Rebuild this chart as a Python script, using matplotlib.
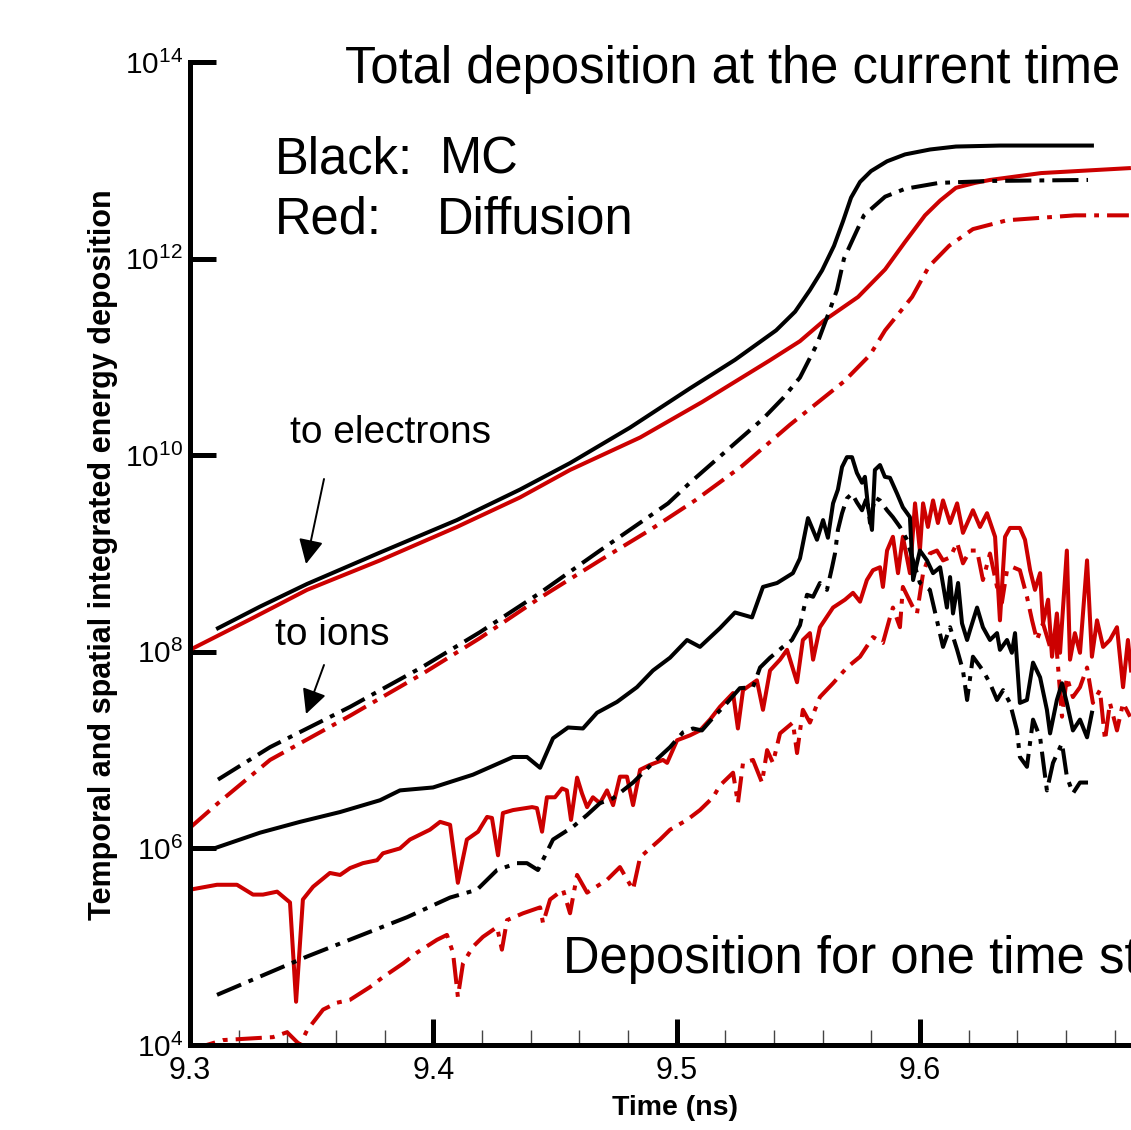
import numpy as np
import matplotlib
matplotlib.use("Agg")
import matplotlib.pyplot as plt
from matplotlib.ticker import FixedLocator, MultipleLocator, FuncFormatter

plt.rcParams['font.family'] = ['Liberation Sans', 'DejaVu Sans']
plt.rcParams['mathtext.fontset'] = 'custom'
plt.rcParams['mathtext.rm'] = 'Liberation Sans'
plt.rcParams['mathtext.it'] = 'Liberation Sans:italic'
plt.rcParams['mathtext.bf'] = 'Liberation Sans:bold'

# ---------------- data (time in ns, log10 of energy deposition) ----------------
# Total deposition at the current time
mc_elec_tot_t = [9.3115, 9.3288, 9.3481, 9.3781, 9.4097, 9.4356, 9.4562, 9.4808, 9.5055, 9.5240,
                 9.5409, 9.5487, 9.5548, 9.5598, 9.5647, 9.5684, 9.5717, 9.5754, 9.5799, 9.5865,
                 9.5939, 9.6042, 9.6148, 9.6329, 9.6707]
mc_elec_tot_y = [8.24, 8.46, 8.69, 9.01, 9.34, 9.65, 9.92, 10.28, 10.68, 10.97,
                 11.27, 11.46, 11.68, 11.88, 12.13, 12.38, 12.62, 12.78, 12.89, 12.99,
                 13.06, 13.11, 13.14, 13.15, 13.15]

diff_elec_tot_t = [9.3000, 9.3247, 9.3481, 9.3781, 9.4097, 9.4356, 9.4562, 9.4850, 9.5104, 9.5380,
                   9.5507, 9.5606, 9.5746, 9.5857, 9.5939, 9.6021, 9.6083, 9.6148, 9.6226, 9.6288,
                   9.6498, 9.6859]
diff_elec_tot_y = [8.02, 8.33, 8.63, 8.93, 9.27, 9.57, 9.85, 10.18, 10.54, 10.96,
                   11.16, 11.37, 11.61, 11.89, 12.17, 12.44, 12.59, 12.72, 12.77, 12.80,
                   12.87, 12.92]

mc_ion_tot_t = [9.3115, 9.3329, 9.3658, 9.3958, 9.4192, 9.4439, 9.4685, 9.4965, 9.5055, 9.5244,
                9.5355, 9.5437, 9.5507, 9.5577, 9.5630, 9.5659, 9.5688, 9.5725, 9.5770, 9.5857,
                9.5939, 9.6078, 9.6288, 9.6691]
mc_ion_tot_y = [6.70, 7.03, 7.44, 7.85, 8.20, 8.60, 9.03, 9.51, 9.72, 10.13,
                10.37, 10.58, 10.79, 11.13, 11.48, 11.68, 12.00, 12.20, 12.44, 12.63,
                12.71, 12.77, 12.79, 12.80]

diff_ion_tot_t = [9.3000, 9.3115, 9.3329, 9.3658, 9.3958, 9.4192, 9.4439, 9.4685, 9.4891, 9.5076,
                  9.5269, 9.5466, 9.5688, 9.5795, 9.5857, 9.5968, 9.6037, 9.6120, 9.6218, 9.6358,
                  9.6637, 9.6859]
diff_ion_tot_y = [6.21, 6.46, 6.90, 7.35, 7.78, 8.14, 8.55, 8.93, 9.24, 9.54,
                  9.89, 10.31, 10.75, 11.02, 11.27, 11.61, 11.92, 12.13, 12.30, 12.39,
                  12.44, 12.44]

# Deposition for one time step
mc_elec_step_t = [9.3111, 9.3288, 9.3452, 9.3617, 9.3781, 9.3863, 9.3999, 9.4163, 9.4328, 9.4385,
                  9.4439, 9.4492, 9.4554, 9.4615, 9.4673, 9.4755, 9.4837, 9.4903, 9.4973, 9.5043,
                  9.5096, 9.5178, 9.5240, 9.5310, 9.5355, 9.5413, 9.5478, 9.5507, 9.5540, 9.5577,
                  9.5602, 9.5622, 9.5643, 9.5663, 9.5680, 9.5700, 9.5721, 9.5741, 9.5762, 9.5774,
                  9.5787, 9.5803, 9.5815, 9.5836, 9.5856, 9.5877, 9.5906, 9.5930, 9.5959, 9.5972,
                  9.6000, 9.6029, 9.6054, 9.6083, 9.6111, 9.6124, 9.6136, 9.6157, 9.6173, 9.6194,
                  9.6206, 9.6235, 9.6259, 9.6288, 9.6317, 9.6329, 9.6358, 9.6378, 9.6391, 9.6411,
                  9.6440, 9.6465, 9.6494, 9.6522, 9.6535, 9.6563, 9.6584, 9.6604, 9.6629, 9.6658,
                  9.6687, 9.6707]
mc_elec_step_y = [6.01, 6.16, 6.27, 6.37, 6.49, 6.59, 6.62, 6.75, 6.93, 6.93,
                  6.82, 7.12, 7.23, 7.22, 7.38, 7.49, 7.64, 7.81, 7.94, 8.12,
                  8.05, 8.24, 8.40, 8.35, 8.66, 8.70, 8.80, 8.95, 9.36, 9.14,
                  9.34, 9.16, 9.51, 9.65, 9.88, 9.98, 9.98, 9.82, 9.72, 9.78,
                  9.47, 9.24, 9.85, 9.90, 9.78, 9.77, 9.61, 9.47, 9.37, 8.73,
                  9.03, 8.93, 8.80, 8.86, 8.45, 8.76, 8.39, 8.70, 8.29, 8.12,
                  8.22, 8.45, 8.25, 8.12, 8.19, 8.02, 8.12, 7.99, 8.19, 7.48,
                  7.51, 7.89, 7.74, 7.41, 7.17, 7.51, 7.68, 7.48, 7.20, 7.31,
                  7.13, 7.38]

diff_elec_step_t = [9.3000, 9.3111, 9.3193, 9.3259, 9.3300, 9.3358, 9.3411, 9.3436, 9.3464, 9.3506,
                    9.3575, 9.3617, 9.3658, 9.3711, 9.3769, 9.3793, 9.3863, 9.3904, 9.3986, 9.4028,
                    9.4069, 9.4101, 9.4138, 9.4184, 9.4221, 9.4241, 9.4266, 9.4286, 9.4328, 9.4406,
                    9.4426, 9.4447, 9.4467, 9.4500, 9.4529, 9.4549, 9.4566, 9.4591, 9.4611, 9.4632,
                    9.4656, 9.4685, 9.4714, 9.4739, 9.4767, 9.4796, 9.4821, 9.4850, 9.4891, 9.4944,
                    9.4961, 9.5002, 9.5055, 9.5096, 9.5137, 9.5178, 9.5232, 9.5252, 9.5273, 9.5330,
                    9.5355, 9.5384, 9.5425, 9.5454, 9.5495, 9.5519, 9.5548, 9.5561, 9.5589, 9.5643,
                    9.5692, 9.5725, 9.5754, 9.5782, 9.5807, 9.5836, 9.5848, 9.5865, 9.5889, 9.5910,
                    9.5930, 9.5959, 9.5980, 9.6000, 9.6013, 9.6033, 9.6054, 9.6074, 9.6095, 9.6124,
                    9.6153, 9.6177, 9.6218, 9.6247, 9.6276, 9.6309, 9.6329, 9.6350, 9.6370, 9.6411,
                    9.6432, 9.6453, 9.6473, 9.6494, 9.6506, 9.6527, 9.6543, 9.6563, 9.6576, 9.6604,
                    9.6617, 9.6637, 9.6658, 9.6687, 9.6707, 9.6728, 9.6753, 9.6781, 9.6810, 9.6835,
                    9.6855, 9.6868]
diff_elec_step_y = [5.58, 5.63, 5.63, 5.53, 5.53, 5.56, 5.45, 4.44, 5.48, 5.61,
                    5.75, 5.73, 5.80, 5.85, 5.88, 5.95, 6.00, 6.09, 6.19, 6.27,
                    6.24, 5.65, 6.09, 6.17, 6.32, 6.31, 5.93, 6.36, 6.39, 6.42,
                    6.41, 6.17, 6.52, 6.52, 6.61, 6.59, 6.29, 6.72, 6.56, 6.42,
                    6.52, 6.46, 6.59, 6.44, 6.73, 6.73, 6.44, 6.80, 6.85, 6.90,
                    6.87, 7.10, 7.15, 7.20, 7.31, 7.44, 7.58, 7.22, 7.61, 7.71,
                    7.41, 7.81, 7.92, 8.02, 7.69, 8.12, 8.19, 7.92, 8.25, 8.45,
                    8.53, 8.60, 8.51, 8.73, 8.83, 8.86, 8.66, 9.03, 9.17, 8.80,
                    9.17, 8.80, 9.51, 9.03, 9.51, 9.27, 9.54, 9.31, 9.54, 9.31,
                    9.51, 9.21, 9.44, 9.27, 9.41, 9.17, 8.32, 9.17, 9.26, 9.26,
                    9.14, 8.83, 8.63, 8.80, 8.29, 8.53, 7.95, 8.39, 7.99, 9.03,
                    7.92, 8.19, 7.99, 8.93, 7.95, 8.32, 8.05, 8.12, 8.25, 7.64,
                    8.12, 7.81]

mc_ion_step_t = [9.3111, 9.3481, 9.3892, 9.4069, 9.4180, 9.4262, 9.4344, 9.4385, 9.4430, 9.4492,
                 9.4574, 9.4632, 9.4685, 9.4739, 9.4821, 9.4903, 9.4973, 9.5026, 9.5067, 9.5104,
                 9.5150, 9.5207, 9.5260, 9.5314, 9.5343, 9.5384, 9.5437, 9.5474, 9.5507, 9.5536,
                 9.5561, 9.5589, 9.5618, 9.5639, 9.5651, 9.5663, 9.5680, 9.5700, 9.5721, 9.5741,
                 9.5762, 9.5782, 9.5795, 9.5815, 9.5836, 9.5865, 9.5889, 9.5918, 9.5947, 9.5972,
                 9.6000, 9.6041, 9.6070, 9.6095, 9.6124, 9.6153, 9.6177, 9.6194, 9.6218, 9.6259,
                 9.6288, 9.6317, 9.6342, 9.6370, 9.6399, 9.6411, 9.6440, 9.6465, 9.6494, 9.6522,
                 9.6547, 9.6584, 9.6604, 9.6629, 9.6658, 9.6691]
mc_ion_step_y = [4.51, 4.90, 5.30, 5.50, 5.58, 5.78, 5.85, 5.85, 5.78, 6.09,
                 6.22, 6.34, 6.46, 6.51, 6.67, 6.87, 7.03, 7.18, 7.22, 7.20,
                 7.33, 7.48, 7.63, 7.64, 7.84, 7.94, 8.05, 8.12, 8.27, 8.58,
                 8.56, 8.70, 8.63, 8.86, 9.00, 9.24, 9.41, 9.56, 9.61, 9.52,
                 9.44, 9.57, 9.31, 9.57, 9.54, 9.44, 9.37, 9.27, 9.14, 8.93,
                 8.70, 8.63, 8.32, 8.05, 8.25, 8.02, 7.81, 7.51, 7.95, 7.81,
                 7.68, 7.51, 7.61, 7.48, 7.20, 6.93, 6.83, 7.31, 7.13, 6.59,
                 6.87, 7.07, 6.73, 6.56, 6.67, 6.67]

diff_ion_step_t = [9.3000, 9.3136, 9.3341, 9.3399, 9.3452, 9.3481, 9.3547, 9.3604, 9.3658, 9.3740,
                   9.3793, 9.3876, 9.3933, 9.4015, 9.4056, 9.4081, 9.4101, 9.4122, 9.4163, 9.4204,
                   9.4262, 9.4282, 9.4303, 9.4369, 9.4439, 9.4451, 9.4480, 9.4533, 9.4562, 9.4591,
                   9.4632, 9.4714, 9.4767, 9.4821, 9.4850, 9.4891, 9.4932, 9.4973, 9.5043, 9.5096,
                   9.5150, 9.5178, 9.5232, 9.5252, 9.5273, 9.5314, 9.5351, 9.5372, 9.5396, 9.5425,
                   9.5478, 9.5495, 9.5519, 9.5548, 9.5589, 9.5643, 9.5700, 9.5754, 9.5807, 9.5848,
                   9.5877, 9.5889, 9.5918, 9.5930, 9.5972, 9.5988, 9.6013, 9.6041, 9.6070, 9.6095,
                   9.6124, 9.6153, 9.6177, 9.6206, 9.6235, 9.6259, 9.6288, 9.6317, 9.6337, 9.6358,
                   9.6383, 9.6411, 9.6440, 9.6461, 9.6481, 9.6506, 9.6535, 9.6556, 9.6584, 9.6604,
                   9.6629, 9.6658, 9.6687, 9.6711, 9.6740, 9.6761, 9.6781, 9.6810, 9.6835, 9.6864]
diff_ion_step_y = [3.95, 4.05, 4.08, 4.13, 4.00, 4.15, 4.36, 4.43, 4.46, 4.59,
                   4.69, 4.83, 4.94, 5.07, 5.12, 4.94, 4.49, 4.83, 5.00, 5.10,
                   5.20, 4.97, 5.27, 5.34, 5.40, 5.24, 5.48, 5.58, 5.34, 5.73,
                   5.55, 5.68, 5.81, 5.58, 5.91, 6.00, 6.09, 6.19, 6.29, 6.39,
                   6.52, 6.64, 6.77, 6.46, 6.87, 6.90, 6.67, 7.00, 6.87, 7.17,
                   7.28, 6.97, 7.41, 7.28, 7.54, 7.68, 7.84, 7.95, 8.15, 8.09,
                   8.35, 8.45, 8.25, 8.66, 8.45, 8.39, 8.80, 9.00, 9.03, 8.93,
                   8.96, 9.11, 8.90, 9.03, 9.03, 8.73, 9.00, 8.66, 8.50, 8.83,
                   8.86, 8.83, 8.56, 8.32, 8.12, 8.29, 8.05, 8.22, 7.34, 7.74,
                   7.54, 7.64, 7.84, 7.48, 7.61, 7.10, 7.48, 7.20, 7.48, 7.34]

x_ticks = [9.3, 9.4, 9.5, 9.6]
x_tick_labels = ["9.3", "9.4", "9.5", "9.6"]
y_ticks = [1e4, 1e6, 1e8, 1e10, 1e12, 1e14]

# ---------------- figure ----------------
W, H = 1131, 1130
fig = plt.figure(figsize=(W / 100, H / 100), dpi=100)
ax = fig.add_axes([190 / W, 1 - 1045 / H, 1 - 190 / W, (1045 - 62) / H])

RED = '#cc0000'
LW = 2.9
DASHDOT = (0, (6.5, 2.0, 1.2, 2.0))

def P(t, y):
    return np.asarray(t), 10.0 ** np.asarray(y)

series = [
    (diff_elec_tot_t, diff_elec_tot_y, RED, '-'),
    (diff_ion_tot_t, diff_ion_tot_y, RED, DASHDOT),
    (diff_elec_step_t, diff_elec_step_y, RED, '-'),
    (diff_ion_step_t, diff_ion_step_y, RED, DASHDOT),
    (mc_elec_tot_t, mc_elec_tot_y, 'black', '-'),
    (mc_ion_tot_t, mc_ion_tot_y, 'black', DASHDOT),
    (mc_elec_step_t, mc_elec_step_y, 'black', '-'),
    (mc_ion_step_t, mc_ion_step_y, 'black', DASHDOT),
]
for t, y, c, ls in series:
    xx, yy = P(t, y)
    ax.plot(xx, yy, color=c, lw=LW, ls=ls, solid_joinstyle='round')

ax.set_yscale('log')
ax.set_xlim(9.3, 9.3 + 941 / 2433)
ax.set_ylim(1e4, 1e14)

for s in ['top', 'right']:
    ax.spines[s].set_visible(False)
for s in ['left', 'bottom']:
    ax.spines[s].set_linewidth(3.6)

ax.yaxis.set_major_locator(FixedLocator(y_ticks))
ax.yaxis.set_minor_locator(FixedLocator([]))
ax.yaxis.set_major_formatter(FuncFormatter(lambda v, p: r'$10^{%d}$' % round(np.log10(v))))
ax.xaxis.set_major_locator(FixedLocator(x_ticks))
ax.set_xticklabels(x_tick_labels)
ax.xaxis.set_minor_locator(MultipleLocator(0.02))

ax.tick_params(axis='both', which='major', direction='in', length=19, width=3.6,
               labelsize=22, color='black')
ax.tick_params(axis='y', which='major', labelsize=21.5, pad=5)
ax.tick_params(axis='x', which='major', pad=8)
ax.tick_params(axis='x', which='minor', direction='in', length=11, width=1.0, color='#444444')

ax.set_xlabel('Time (ns)', fontsize=20.5, fontweight='bold')
ax.xaxis.set_label_coords((675 - 190) / (W - 190), -(1095 - 1045) / (1045 - 62))
ax.set_ylabel('Temporal and spatial integrated energy deposition', fontsize=22,
              fontweight='bold')
ax.yaxis.set_label_coords(-(190 - 118) / (W - 190), (1045 - 555) / (1045 - 62))

def ftext(px, py, s, size, **kw):
    fig.text(px / W, 1 - py / H, s, fontsize=size, va='center', ha='left', **kw)

ftext(345, 70, 'Total deposition at the current time', 36.5)
ftext(275, 160, 'Black:', 36.5)
ftext(440, 160, 'MC', 36.5)
ftext(275, 220, 'Red:', 36.5)
ftext(437, 220, 'Diffusion', 36.5)
ftext(290, 433, 'to electrons', 28)
ftext(275, 635, 'to ions', 28)
ftext(563, 960, 'Deposition for one time step', 36.5)

def farrow(x0, y0, x1, y1):
    ax.annotate('', xy=(x1 / W, 1 - y1 / H), xytext=(x0 / W, 1 - y0 / H),
                xycoords='figure fraction', textcoords='figure fraction',
                arrowprops=dict(arrowstyle='-|>,head_length=1.5,head_width=0.75',
                                color='black', lw=1.4, shrinkA=0, shrinkB=0))

farrow(324, 479, 306, 564)
farrow(324, 665, 306, 714)

fig.savefig('out.png', dpi=100)
